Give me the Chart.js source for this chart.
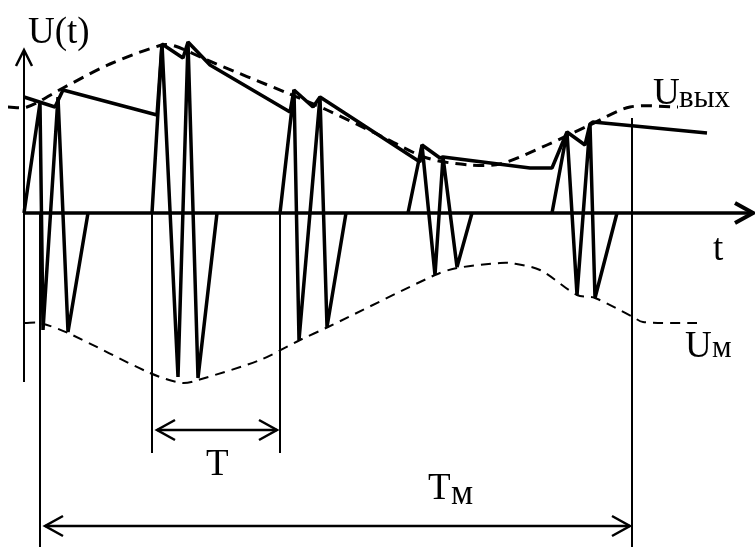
<!DOCTYPE html>
<html lang="ru">
<head>
<meta charset="utf-8">
<title>U(t)</title>
<script src="https://cdn.jsdelivr.net/npm/chart.js@4.4.1/dist/chart.umd.min.js"></script>
<style>
  html, body { margin: 0; padding: 0; background: #fff; }
  canvas { display: block; }
</style>
</head>
<body>
<canvas id="signalChart" width="755" height="547"></canvas>
<script>
// radio pulses: bursts of two periods, null splits the bursts
const pulseT = [0, 16, 19, 34, 44, 64, null,
  128, 138, 154, 164, 174, 193, null,
  256, 270, 275, 296, 303, 322, null,
  384, 398, 411, 419, 433, 448, null,
  528, 543, 553, 566, 571, 593];
const pulseU = [0, 110, -117, 116, -119, 0, null,
  0, 169, -164, 171, -165, 0, null,
  0, 123, -127, 116, -114, 0, null,
  0, 68, -62, 56, -54, 0, null,
  0, 81, -82, 89, -85, 0];

// detector output: charges on each peak, decays between them
const outT = [0, 31, 39, 133, 138, 159, 164, 186, 266, 270, 289, 296, 396, 398, 416, 419, 506, 528, 543, 561, 566, 569, 683];
const outU = [116, 106, 123, 98, 169, 155, 171, 148, 101, 123, 106, 116, 51, 68, 55, 56, 45, 45, 81, 68, 89, 91, 80];

// upper envelope (Uвых)
const upperT = [-16, 3, 39, 86, 138, 151, 183, 263, 303, 359, 403, 446, 476, 523, 566, 606, 654];
const upperU = [106, 106, 125, 149, 168, 167, 153, 120, 103, 76, 55, 48, 49, 68, 88, 106, 106];

// lower envelope (Uм)
const lowerT = [1, 16, 44, 126, 158, 174, 236, 276, 304, 411, 433, 476, 486, 516, 553, 571, 609, 619, 673];
const lowerU = [-110, -110, -120, -160, -170, -167, -147, -127, -114, -62, -55, -50, -50, -57, -82, -85, -104, -109, -110];

// period of the pulses and period of the modulation
const periodMarks = [128, 256];
const modPeriodMarks = [16, 608];

const zip = (ts, us) => ts.map((t, i) => ({ x: t, y: us[i] }));

const serif = '"Liberation Serif", "Times New Roman", serif';

function seg(ctx, x1, y1, x2, y2, w) {
  ctx.lineWidth = w;
  ctx.beginPath();
  ctx.moveTo(x1, y1);
  ctx.lineTo(x2, y2);
  ctx.stroke();
}

// open "<" style head, dir = +1 points right, -1 points left
function head(ctx, tx, ty, dir, w) {
  ctx.lineWidth = w;
  ctx.beginPath();
  ctx.moveTo(tx - dir * 18, ty - 10);
  ctx.lineTo(tx, ty);
  ctx.lineTo(tx - dir * 18, ty + 10);
  ctx.stroke();
}

const marks = {
  id: 'marks',
  beforeDatasetsDraw(chart) {
    const { ctx } = chart;
    const x = chart.scales.x, y = chart.scales.y;
    const y0 = y.getPixelForValue(0);
    ctx.save();
    ctx.strokeStyle = '#000';
    ctx.lineCap = 'butt';
    ctx.lineJoin = 'miter';

    // time axis with arrow
    const xEnd = x.getPixelForValue(x.max);
    seg(ctx, x.getPixelForValue(0), y0, xEnd - 2, y0, 3.5);
    head(ctx, xEnd - 2, y0, 1, 4);

    // voltage axis with arrow
    const ax = x.getPixelForValue(0);
    seg(ctx, ax, y.getPixelForValue(-169), ax, y.getPixelForValue(162), 2);
    ctx.lineWidth = 2.5;
    ctx.beginPath();
    ctx.moveTo(ax - 8, y.getPixelForValue(147));
    ctx.lineTo(ax, y.getPixelForValue(163));
    ctx.lineTo(ax + 8, y.getPixelForValue(147));
    ctx.stroke();

    // period T
    const [p1, p2] = periodMarks.map(v => x.getPixelForValue(v));
    seg(ctx, p1, y0, p1, y.getPixelForValue(-240), 2);
    seg(ctx, p2, y0, p2, y.getPixelForValue(-240), 2);
    const ty = y.getPixelForValue(-217);
    seg(ctx, p1 + 5, ty, p2 - 3, ty, 2.5);
    head(ctx, p1 + 5, ty, -1, 2.5);
    head(ctx, p2 - 3, ty, 1, 2.5);

    // modulation period Tм
    const [m1, m2] = modPeriodMarks.map(v => x.getPixelForValue(v));
    seg(ctx, m1, y0, m1, y.getPixelForValue(y.min), 2);
    seg(ctx, m2, y.getPixelForValue(95), m2, y.getPixelForValue(y.min), 2);
    const my = y.getPixelForValue(-313);
    seg(ctx, m1 + 5, my, m2 - 2, my, 2.5);
    head(ctx, m1 + 5, my, -1, 2.5);
    head(ctx, m2 - 2, my, 1, 2.5);

    // labels
    ctx.fillStyle = '#000';
    ctx.textBaseline = 'alphabetic';
    ctx.textAlign = 'left';
    ctx.font = '37px ' + serif;
    ctx.fillText('U(t)', 28, 43);
    ctx.fillText('t', 713, 260);
    ctx.fillText('U', 653, 104);
    ctx.fillText('U', 685, 357);
    ctx.fillText('T', 206, 475);
    ctx.fillText('T', 428, 499);
    ctx.font = '31px ' + serif;
    ctx.fillText('вых', 679, 107);
    ctx.fillText('м', 712, 357);
    ctx.font = '35px ' + serif;
    ctx.fillText('м', 451, 504);
    ctx.restore();
  }
};

new Chart(document.getElementById('signalChart'), {
  type: 'line',
  data: {
    datasets: [
      {
        label: 'Uвых',
        data: zip(upperT, upperU),
        borderColor: '#000',
        borderWidth: 3,
        borderDash: [11, 7],
        pointRadius: 0,
        tension: 0.3,
      },
      {
        label: 'Uм',
        data: zip(lowerT, lowerU),
        borderColor: '#000',
        borderWidth: 2,
        borderDash: [10, 7],
        pointRadius: 0,
        tension: 0.3,
      },
      {
        label: 'U(t)',
        data: zip(pulseT, pulseU),
        borderColor: '#000',
        borderWidth: 3.5,
        borderJoinStyle: 'bevel',
        pointRadius: 0,
        tension: 0,
      },
      {
        label: 'detector',
        data: zip(outT, outU),
        borderColor: '#000',
        borderWidth: 3.5,
        borderJoinStyle: 'bevel',
        pointRadius: 0,
        tension: 0,
      },
    ],
  },
  options: {
    responsive: false,
    animation: false,
    devicePixelRatio: 1,
    layout: { padding: 0 },
    plugins: {
      legend: { display: false },
      tooltip: { enabled: false },
    },
    scales: {
      x: { type: 'linear', min: -24, max: 731, display: false },
      y: { type: 'linear', min: -334, max: 213, display: false },
    },
  },
  plugins: [marks],
});
</script>
</body>
</html>
